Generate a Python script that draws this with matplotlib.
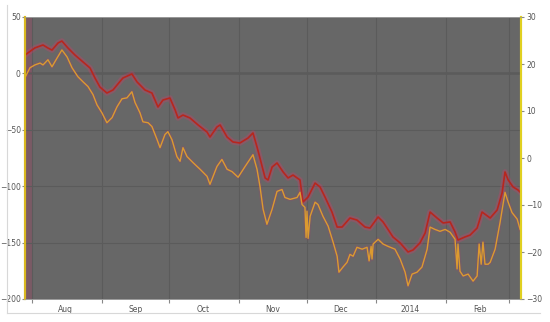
import numpy as np
import pandas as pd
import matplotlib
matplotlib.use("Agg")
import matplotlib.pyplot as plt
import matplotlib.dates as mdates
from matplotlib.lines import Line2D

# days counted from 2013-08-01
red_days = [-3.1, 1.3, 4.9, 7.1, 8.9, 11.6, 13.3, 16, 19.1, 22.7, 25.8, 28, 30.2, 33.3, 36,
            37.8, 40.4, 44.4, 46.7, 50.2, 53.3, 56, 58.2, 61.3, 63.6, 64.9, 67.1, 70.2, 73.8,
            77.8, 79.1, 82.2, 83.6, 86.7, 89.3, 92.4, 96, 98.2, 100, 101.3, 103.6, 104.9,
            106.7, 108.9, 111.6, 113.8, 116, 119.1, 120.4, 122.7, 125.8, 128, 130.2, 133.3,
            135.6, 137.8, 141.3, 144.4, 148, 150.2, 153.8, 156, 157.8, 160.4, 163.6, 167.1,
            169.3, 172.4, 174.7, 176.9, 180, 182.7, 185.8, 188, 189.3, 192.4, 194.7, 197.8,
            200, 203.6, 206.7, 208.9, 210.2, 211.6, 213.8, 216, 217.3]
red_vals = [16.3, 22.6, 25.2, 22.5, 20.7, 27.0, 28.7, 22.5, 16.3, 10.1, 4.8, -4.1, -12.1, -17.4, -14.7,
            -10.3, -4.1, -0.5, -7.6, -14.7, -17.4, -29.8, -23.6, -21.8, -32.4, -39.5, -36.9, -39.5, -45.7,
            -52.0, -56.4, -47.5, -45.7, -56.4, -60.8, -61.7, -57.3, -52.8, -65.2, -75.0, -92.7, -94.5,
            -83.0, -79.4, -87.4, -92.7, -90.1, -94.5, -114.0, -109.6, -97.2, -100.7, -109.6, -122.9,
            -136.2, -136.2, -128.2, -130.0, -136.2, -137.1, -127.3, -131.7, -137.1, -145.0, -150.3, -158.3,
            -156.6, -150.3, -141.5, -122.9, -128.2, -132.6, -131.7, -140.6, -147.7, -145.0, -143.3, -137.1,
            -122.9, -128.2, -121.1, -106.0, -87.4, -94.5, -100.7, -103.4, -106.0]

orange_days = [-3.1, -0.9, 1.3, 3.6, 4.9, 7.1, 8.9, 10.2, 13.3, 15.6, 17.8, 20.4, 22.7, 24.9, 27.1,
               28.9, 31.1, 33.3, 35.6, 37.8, 40, 42.2, 44.4, 45.8, 48, 49.3, 51.6, 53.3, 55.6, 56.9,
               59.1, 60.4, 62.2, 64.4, 65.8, 67.1, 68.9, 71.6, 74.7, 77.8, 79.1, 82.2, 84.4, 86.7,
               88.9, 91.6, 94.7, 98.2, 100, 101.3, 102.7, 104.4, 106.7, 108.9, 111.1, 112.4, 114.7,
               117.8, 119.1, 120, 121.3, 121.8, 122.2, 122.7, 123.6, 125.8, 127.1, 129.3, 131.6,
               133.8, 135.6, 136.4, 138.2, 140, 141.3, 142.7, 144.4, 146.7, 148.9, 149.8, 150.7,
               151.1, 151.6, 153.8, 156, 158.2, 161.3, 163.6, 165.8, 167.1, 168.9, 171.1, 173.3,
               175.6, 176.9, 179.1, 181.3, 183.6, 185.8, 188, 188.9, 189.3, 190.2, 191.6, 193.8,
               196, 197.8, 198.7, 199.6, 200.4, 201.3, 202.7, 203.6, 205.8, 208, 210.2, 211.6,
               213.3, 215.6, 216.9]
orange_vals = [17.1, 19.2, 19.8, 20.2, 19.8, 20.9, 19.4, 20.5, 23.0, 21.5, 19.2, 17.3, 16.2, 15.2, 13.5,
               11.3, 9.6, 7.5, 8.6, 10.9, 12.6, 12.8, 14.1, 11.8, 9.6, 7.7, 7.5, 6.7, 3.9, 2.2,
               5.0, 5.6, 3.9, 0.3, -0.7, 2.2, 0.3, -1.0, -2.4, -3.9, -5.6, -1.8, -0.3, -2.4,
               -2.9, -4.1, -1.8, 0.7, -2.4, -6.0, -10.9, -14.1, -10.9, -7.1, -6.7, -8.4, -8.8,
               -8.4, -7.3, -9.9, -10.5, -16.9, -11.3, -17.1, -12.4, -9.4, -9.9, -12.4, -14.5,
               -17.9, -20.9, -24.3, -23.2, -22.2, -20.5, -20.9, -19.0, -19.4, -19.0, -21.9, -18.8,
               -21.5, -18.3, -17.3, -18.3, -18.8, -19.4, -21.5, -24.3, -27.2, -24.7, -24.3, -23.2,
               -19.4, -14.7, -15.2, -15.6, -15.2, -15.8, -17.3, -23.6, -18.3, -24.1, -25.1, -24.7,
               -26.2, -25.1, -18.3, -22.6, -17.9, -22.6, -22.6, -22.2, -19.4, -13.7, -7.3, -9.4,
               -11.6, -13.0, -15.2]

month_labels = ['Aug', 'Sep', 'Oct', 'Nov', 'Dec', '2014', 'Feb']

start = pd.Timestamp('2013-08-01')
red_dates = start + pd.to_timedelta(red_days, unit='D')
orange_dates = start + pd.to_timedelta(orange_days, unit='D')

fig = plt.figure(figsize=(5.5, 3.22), dpi=100)
ax = fig.add_axes([25/550, 1 - 299/322, 496/550, 282/322])
ax2 = ax.twinx()

ax.set_facecolor('#676767')
ax.set_xlim(start + pd.Timedelta(days=-3.1), start + pd.Timedelta(days=217.3))
ax.set_ylim(-200, 50)
ax2.set_ylim(-30, 30)

# month boundaries / labels
month_starts = pd.date_range('2013-08-01', '2014-03-01', freq='MS')
ax.set_xticks(month_starts)
ax.set_xticklabels([])
mids = [m + pd.Timedelta(days=15) for m in month_starts[:-1]]
ax.set_xticks(mids, minor=True)
ax.set_xticklabels(month_labels, minor=True)
ax.tick_params(axis='x', which='major', length=3, color='#888888')
ax.tick_params(axis='x', which='minor', length=0, pad=4, labelsize=5.5, labelcolor='#555555')

ax.set_yticks([-200, -150, -100, -50, 0, 50])
ax.tick_params(axis='y', length=2, pad=1, labelsize=5.5, labelcolor='#555555', color='#888888')
ax2.set_yticks([-30, -20, -10, 0, 10, 20, 30])
ax2.tick_params(axis='y', length=2, pad=2, labelsize=5.5, labelcolor='#555555', color='#888888')

ax.grid(True, color='#5b5b5b', lw=0.8)
ax.axhline(0, color='#3e3e3e', lw=1, zorder=1)
ax.axvspan(ax.get_xlim()[0], mdates.date2num(start), color='#c03060', alpha=0.22, lw=0)

# orange series (right axis), red series (left axis)
ax2.plot(orange_dates, orange_vals, color='#c0306a', lw=3, alpha=0.15, solid_joinstyle='round')
ax2.plot(orange_dates, orange_vals, color='#dc9a30', lw=1.0)
ax.plot(red_dates, red_vals, color='#ff2a6a', lw=4, alpha=0.22, solid_joinstyle='round')
ax.plot(red_dates, red_vals, color='#b8261e', lw=1.2)

for a in (ax, ax2):
    a.spines['left'].set_color('#d9b820')
    a.spines['left'].set_linewidth(1.5)
    a.spines['right'].set_color('#e0d020')
    a.spines['right'].set_linewidth(1.5)
    a.spines['top'].set_color('#9a9a9a')
    a.spines['top'].set_linewidth(0.6)
    a.spines['bottom'].set_color('#9a9a9a')
    a.spines['bottom'].set_linewidth(0.6)

# outer frame lines
fig.add_artist(Line2D([7/550, 7/550], [1 - 313/322, 1 - 5/322], transform=fig.transFigure, color='#d8d8d8', lw=0.8))
fig.add_artist(Line2D([7/550, 540/550], [1 - 313/322, 1 - 313/322], transform=fig.transFigure, color='#d8d8d8', lw=0.8))

fig.savefig('out.png', dpi=100, facecolor='white')
